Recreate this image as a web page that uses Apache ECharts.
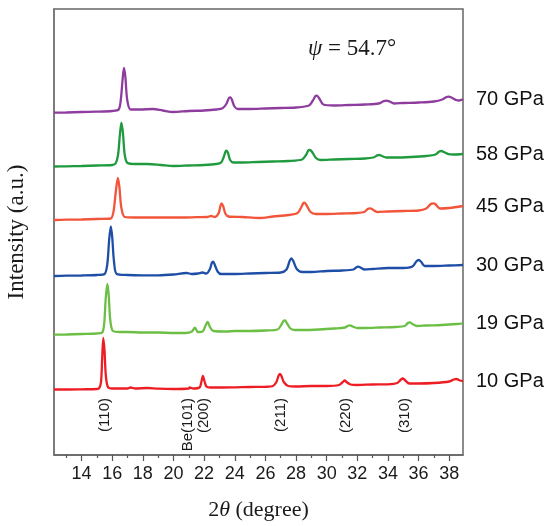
<!DOCTYPE html>
<html>
<head>
<meta charset="utf-8">
<script src="https://cdn.jsdelivr.net/npm/echarts@6/dist/echarts.min.js"></script>
<style>
  html, body { margin: 0; padding: 0; background: #fff; }
  #chart { width: 552px; height: 526px; }
</style>
</head>
<body>
<div id="chart"></div>
<script>
// Pressure of each pattern, bottom first
const pressures = ['10 GPa', '19 GPa', '30 GPa', '45 GPa', '58 GPa', '70 GPa'];
const colors = ['#ee1d24', '#6cbf45', '#1f4ea6', '#f2553a', '#1f9a3e', '#8e3c9e'];

// [2theta, intensity], already stacked (a.u.)
const p10 = [[12.2,65.5],[13,65.5],[14,65.7],[15,66],[15.15,66.8],[15.27,73],[15.34,95],[15.42,117],[15.5,104],[15.58,80],
  [15.72,68],[16,66.5],[17,66.5],[17.2,67.5],[17.5,66.5],[18.3,67],[19,66.3],[20,66],[21,66.5],[21.05,67.5],
  [21.3,66.5],[21.7,67.5],[21.82,73],[21.92,79],[22.02,74],[22.15,68.5],[22.4,67.5],[23,67.5],[24,67.7],[25,68],
  [26,68.2],[26.5,69],[26.72,73],[26.85,79],[26.95,81],[27.05,79],[27.2,73],[27.5,69],[28,68.5],[29,69],
  [30,69],[30.8,70],[31.05,73],[31.18,74.5],[31.3,73],[31.55,70.5],[32,70],[33,70.5],[34,70.7],[34.6,72],
  [34.85,75.5],[34.97,76.5],[35.1,75],[35.4,71.5],[36,71.5],[37,72],[38,73.5],[38.3,75.5],[38.47,76],[38.7,74.5],[38.9,74]];
const p19 = [[12.2,120.3],[13,120.5],[14,121],[15,121.5],[15.35,122.5],[15.48,132],[15.57,155],[15.68,171],[15.77,160],[15.88,134],
  [16.05,124],[16.5,123],[17,123],[18,122.5],[19,122.5],[20,122],[20.8,122],[21.2,123.5],[21.4,127.3],[21.6,123],
  [21.9,123.5],[22.08,129],[22.23,133],[22.38,128],[22.6,124],[23.5,123.5],[24,124],[25,124],[26,124.5],[26.8,125.5],
  [27.05,130.5],[27.18,134],[27.28,134.5],[27.4,132],[27.6,127],[27.9,125],[28.5,125],[29.5,125.5],[30.5,126.5],[31.2,127.5],
  [31.4,129.3],[31.53,129.7],[31.7,128.5],[32,127],[32.5,127],[33.5,127.5],[34.5,128],[35.1,129],[35.3,132],[35.44,132.7],
  [35.6,131],[35.9,129],[36.5,129.5],[37.5,130],[38.5,131],[38.9,131.7]];
const p30 = [[12.2,179],[13,179.3],[14,179.5],[15,180],[15.5,181],[15.68,191],[15.8,215],[15.91,228.5],[16,218],[16.12,193],
  [16.3,181],[17,180],[18,179.7],[19,179.7],[20,180.5],[20.85,182],[21.2,181],[21.6,181.5],[21.89,182.5],[22.15,181.5],
  [22.38,186],[22.5,192],[22.59,193.3],[22.7,190],[22.88,183.5],[23.1,181],[24,181],[25,181.5],[26,182],[27,182.5],
  [27.38,185.5],[27.58,194],[27.7,196.7],[27.82,194],[28.05,186],[28.4,183],[29,183],[30,184],[31,184.5],[31.75,185.5],
  [31.95,187.8],[32.06,188.3],[32.2,187.5],[32.45,185.5],[33,186],[34,187],[35,187],[35.6,188.5],[35.85,193.5],[36.01,195],
  [36.15,193.5],[36.4,189],[37,189],[38,189.5],[38.9,190]];
const p45 = [[12.2,235],[13,235.3],[14,235.5],[15,236],[15.9,236.5],[16.08,243],[16.24,264],[16.37,277],[16.47,268],[16.6,247],
  [16.82,238],[17.5,237.5],[18.5,237.5],[19.5,237.5],[20.5,237.5],[21.5,237.8],[22.2,238],[22.45,239],[22.7,238],[22.95,242],
  [23.07,249.5],[23.15,251.7],[23.25,248.5],[23.4,241],[23.6,238.5],[24.5,238],[25.6,237],[26.5,238.5],[27.5,240],[28.1,242],
  [28.35,248],[28.48,252],[28.55,252.3],[28.68,250],[28.95,243],[29.3,241],[30,241],[31,241.5],[32,242],[32.45,243],
  [32.7,246.2],[32.84,246.7],[33,245.5],[33.3,243],[34,243.5],[35,244],[36,244.5],[36.5,246.5],[36.8,251],[36.97,251.7],
  [37.12,250.5],[37.4,246.5],[38,247],[38.9,249]];
const p58 = [[12.2,288.5],[13,288.7],[14,289],[15,289.5],[16,290],[16.22,291.5],[16.38,300],[16.5,320],[16.6,332.3],[16.7,322],
  [16.82,300],[17,292],[17.5,291],[18.3,291],[19.2,290],[20,289],[21,289.5],[22,290],[22.8,291],[23.1,292.3],
  [23.28,298],[23.4,303.5],[23.47,304.3],[23.56,302],[23.7,295],[23.9,292.5],[24.5,292.5],[25.5,293],[26.5,293.5],[27.5,294],
  [28.4,295.5],[28.65,300],[28.8,304.5],[28.9,305],[29.05,303],[29.3,297],[29.6,295],[30.5,295.5],[31.5,296],[32.5,296.5],
  [33.05,297.5],[33.3,299.6],[33.44,300],[33.6,299],[33.9,297.5],[34.5,297.5],[35.5,298],[36.5,299],[37.1,300.5],[37.35,303.5],
  [37.5,304],[37.65,303],[37.95,300.8],[38.3,300.5],[38.9,301]];
const p70 = [[12.2,342.3],[13,342.5],[14,343],[15,343.3],[16,344],[16.42,345.5],[16.56,355],[16.68,376],[16.77,387],[16.86,378],
  [16.98,355],[17.2,345.5],[17.8,345.5],[18.66,346],[19.3,344.5],[19.96,343],[21,344],[22,344.5],[22.8,345.5],[23.2,346.7],
  [23.45,351],[23.62,357],[23.72,357.7],[23.82,355],[23.98,348.5],[24.2,346],[25,346],[26,346.5],[27,347],[28,347.5],
  [28.85,349.5],[29.1,354.5],[29.27,359],[29.35,359.3],[29.5,357],[29.78,350.5],[30.5,349.5],[31.5,350],[32.5,350.5],[33.4,351.5],
  [33.72,353.8],[33.9,354.3],[34.1,353.5],[34.4,351.5],[35,352],[36,352.5],[37,353.5],[37.55,355.5],[37.82,358],[37.97,358.3],
  [38.15,357.5],[38.45,355],[38.65,354.5],[38.9,355.7]];
const patterns = [p10, p19, p30, p45, p58, p70];

// x axis ticks
const majorTicks = [14, 16, 18, 20, 22, 24, 26, 28, 30, 32, 34, 36, 38];
const minorTicks = [13, 15, 17, 19, 21, 23, 25, 27, 29, 31, 33, 35, 37];

// reflection labels, at their 2theta
const peakNames = ['(110)', 'Be(101)', '(200)', '(211)', '(220)', '(310)'];
const peakPos = [15.5, 20.97, 22.0, 26.98, 31.26, 35.1];
const peakTop = 57; // top end of the rotated labels, intensity units

const serif = '"Liberation Serif", "Times New Roman", serif';
const sans = '"Liberation Sans", Arial, sans-serif';

const chart = echarts.init(document.getElementById('chart'));

const option = {
    animation: false,
    grid: {
        left: 54, right: 89, top: 9, bottom: 71,
        containLabel: false, outerBoundsMode: 'none',
        show: true, borderColor: '#666', borderWidth: 1.5
    },
    xAxis: [{
        type: 'value', min: 12.2, max: 38.9,
        axisLine: { show: true, lineStyle: { color: '#666', width: 1.5 } },
        axisTick: { show: true, length: 6, customValues: majorTicks, lineStyle: { color: '#555', width: 1.2 } },
        axisLabel: { customValues: majorTicks, margin: 10, color: '#1a1a1a', fontSize: 18, fontFamily: sans },
        splitLine: { show: false },
        name: '{n|2}{i|θ}{n| (degree)}',
        nameLocation: 'middle', nameGap: 44,
        nameTextStyle: {
            rich: {
                n: { fontFamily: serif, fontSize: 22, color: '#1a1a1a' },
                i: { fontFamily: serif, fontSize: 22, fontStyle: 'italic', color: '#1a1a1a' }
            }
        }
    }, {
        type: 'value', min: 12.2, max: 38.9, position: 'bottom',
        axisLine: { show: false },
        axisTick: { show: true, length: 3, customValues: minorTicks, lineStyle: { color: '#555', width: 1.2 } },
        axisLabel: { show: false },
        splitLine: { show: false }
    }],
    yAxis: {
        type: 'value', min: 0, max: 446,
        axisLine: { show: true, lineStyle: { color: '#777', width: 1.5 } },
        axisTick: { show: false },
        axisLabel: { show: false },
        splitLine: { show: false },
        name: 'Intensity (a.u.)',
        nameLocation: 'middle', nameGap: 26,
        nameTextStyle: { fontFamily: serif, fontSize: 23, color: '#1a1a1a' }
    },
    series: patterns.map((d, i) => ({
        name: pressures[i],
        type: 'line',
        data: d,
        showSymbol: false,
        smooth: 0.3,
        lineStyle: { color: colors[i], width: 2.3 },
        endLabel: {
            show: true, formatter: '{a}', distance: 13,
            fontFamily: sans, fontSize: 20, color: '#111'
        }
    }))
};
chart.setOption(option);

// rotated hkl labels and the psi note
const graphics = peakNames.map((t, i) => {
    const pt = chart.convertToPixel({ gridIndex: 0 }, [peakPos[i], peakTop]);
    return {
        type: 'text', x: pt[0], y: pt[1], rotation: Math.PI / 2,
        style: { text: t, font: '15px ' + sans, fill: '#1a1a1a', align: 'right', verticalAlign: 'middle' }
    };
});
graphics.push({
    type: 'text', left: 308, top: 37,
    style: {
        text: '{i|ψ}{n| = 54.7°}',
        rich: {
            i: { fontFamily: serif, fontSize: 23, fontStyle: 'italic', fill: '#1a1a1a' },
            n: { fontFamily: serif, fontSize: 23, fill: '#1a1a1a' }
        }
    }
});
chart.setOption({ graphic: graphics });
</script>
</body>
</html>
